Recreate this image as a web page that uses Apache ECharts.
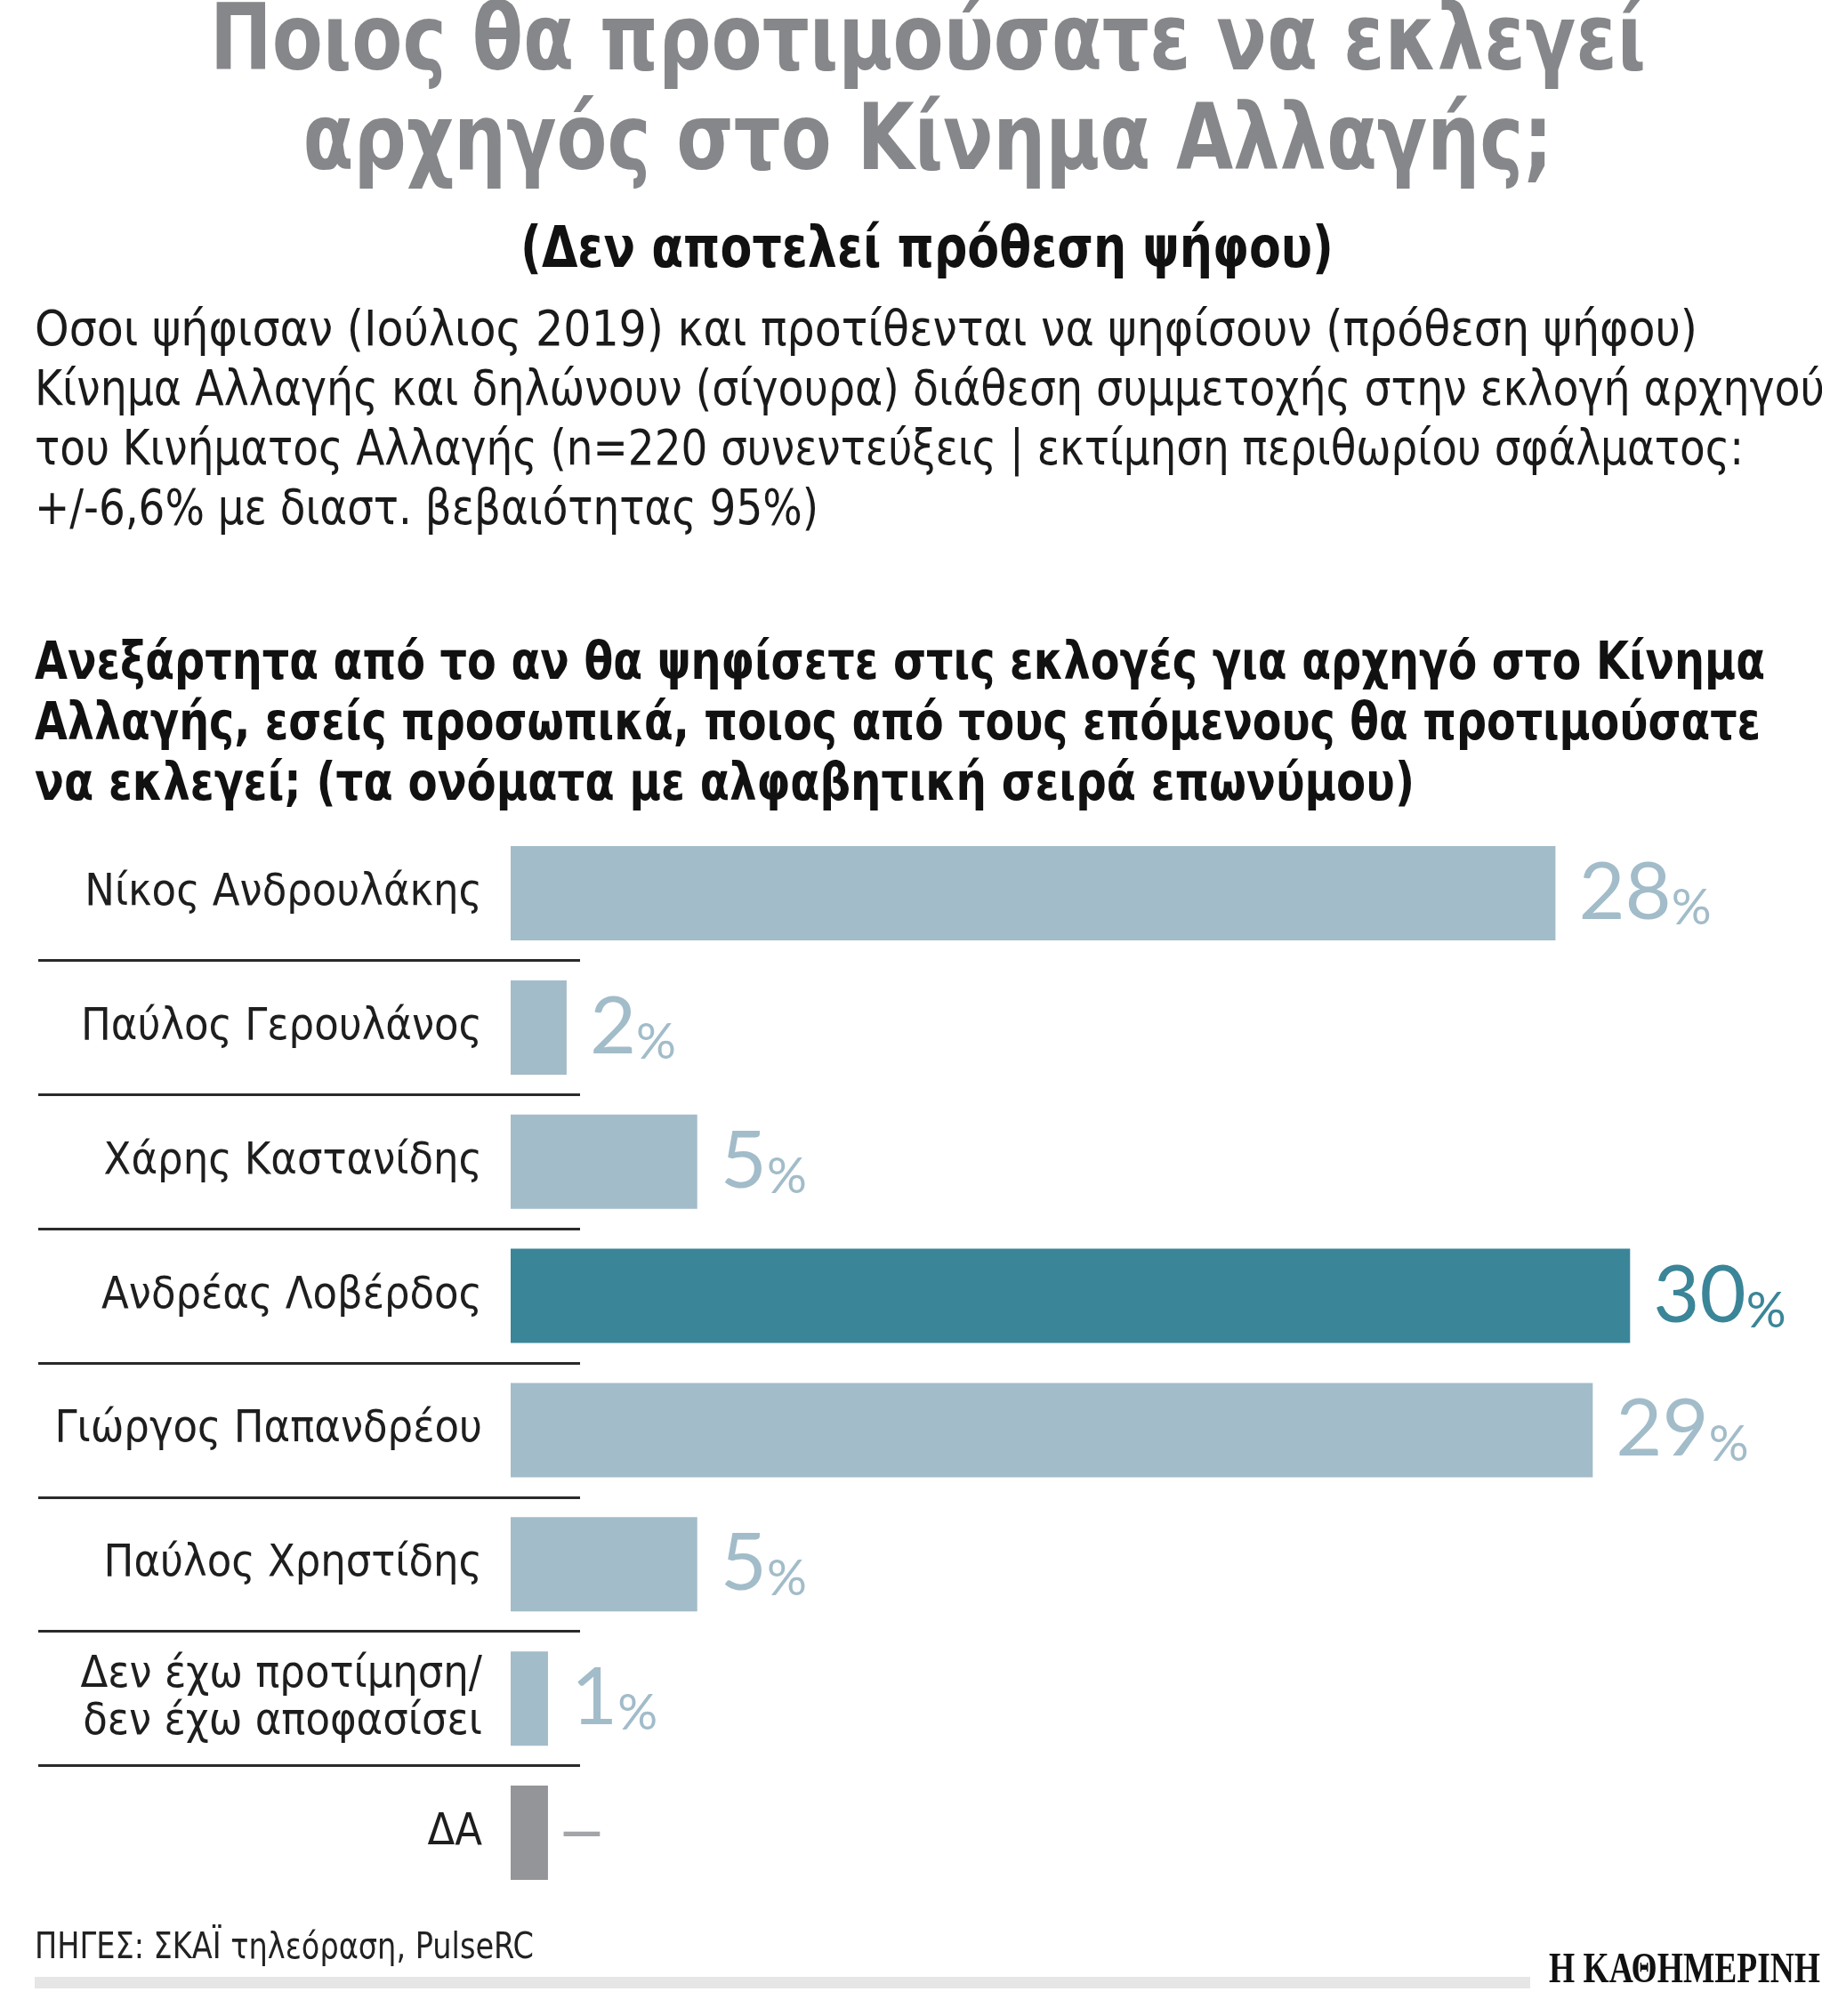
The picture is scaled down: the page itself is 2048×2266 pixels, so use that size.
<!DOCTYPE html>
<html>
<head>
<meta charset="utf-8">
<script src="https://cdn.jsdelivr.net/npm/echarts@6/dist/echarts.min.js"></script>
<style>
  html, body { margin: 0; padding: 0; background: #ffffff; }
  #chart { width: 2048px; height: 2266px; }
</style>
</head>
<body>
<div id="chart"></div>
<script>
// ---- data ----
const categories = [
  'Νίκος Ανδρουλάκης',
  'Παύλος Γερουλάνος',
  'Χάρης Καστανίδης',
  'Ανδρέας Λοβέρδος',
  'Γιώργος Παπανδρέου',
  'Παύλος Χρηστίδης',
  'Δεν έχω προτίμηση/\nδεν έχω αποφασίσει',
  'ΔΑ'
];
// bar lengths as drawn in the picture (percent)
const values = [28, 1.5, 5, 30, 29, 5, 1, 1];
// printed value labels
const valueLabels = ['28', '2', '5', '30', '29', '5', '1', '—'];
const highlightCategory = 'Ανδρέας Λοβέρδος';
const noAnswerCategory = 'ΔΑ';

const titleLines = ['Ποιος θα προτιμούσατε να εκλεγεί', 'αρχηγός στο Κίνημα Αλλαγής;'];
const subtitle = '(Δεν αποτελεί πρόθεση ψήφου)';
const descLines = [
  'Οσοι ψήφισαν (Ιούλιος 2019) και προτίθενται να ψηφίσουν (πρόθεση ψήφου)',
  'Κίνημα Αλλαγής και δηλώνουν (σίγουρα) διάθεση συμμετοχής στην εκλογή αρχηγού',
  'του Κινήματος Αλλαγής (n=220 συνεντεύξεις | εκτίμηση περιθωρίου σφάλματος:',
  '+/-6,6% με διαστ. βεβαιότητας 95%)'
];
const questionLines = [
  'Ανεξάρτητα από το αν θα ψηφίσετε στις εκλογές για αρχηγό στο Κίνημα',
  'Αλλαγής, εσείς προσωπικά, ποιος από τους επόμενους θα προτιμούσατε',
  'να εκλεγεί; (τα ονόματα με αλφαβητική σειρά επωνύμου)'
];
const sourceText = 'ΠΗΓΕΣ: ΣΚΑΪ τηλεόραση, PulseRC';
const logoText = 'Η ΚΑΘΗΜΕΡΙΝΗ';

// ---- layout (text widths measured on the reference, px) ----
const descWidths = [1869, 2012, 1921, 881];
const questionWidths = [1945, 1940, 1551];

// ---- styles ----
const NARROW = "'Liberation Sans Narrow', 'DejaVu Sans Condensed', 'Liberation Sans', sans-serif";
const SERIF = "'Liberation Serif', 'DejaVu Serif', serif";
const NUM = "Lato, 'Open Sans', sans-serif";
const LIGHT = '#A2BCC9';
const DARK = '#3B8598';
const GRAY = '#939598';
const DASH = '#A3A5A8';

const measureCtx = document.createElement('canvas').getContext('2d');
function fitScale(text, font, targetWidth) {
  measureCtx.font = font;
  return targetWidth / measureCtx.measureText(text).width;
}

function barColor(name) {
  if (name === highlightCategory) return DARK;
  if (name === noAnswerCategory) return GRAY;
  return LIGHT;
}

const seriesData = values.map((v, i) => {
  const name = categories[i];
  const item = { value: v, name: name, itemStyle: { color: barColor(name) }, label: {} };
  if (name === noAnswerCategory) {
    item.label.formatter = '{d|' + valueLabels[i] + '}';
    item.label.distance = 14;
  } else if (name === highlightCategory) {
    item.label.formatter = '{nd|' + valueLabels[i] + '}{pd|%}';
  } else {
    item.label.formatter = '{n|' + valueLabels[i] + '}{p|%}';
  }
  return item;
});

const chart = echarts.init(document.getElementById('chart'), null, { renderer: 'canvas' });

const graphics = [];
function addText(text, font, fill, x, y, align, targetWidth) {
  const s = targetWidth ? fitScale(text, font, targetWidth) : 1;
  graphics.push({
    type: 'text', z: 10, x: x, y: y, scaleX: s,
    style: { x: 0, y: 0, text: text, fill: fill, font: font, align: align, verticalAlign: 'middle' }
  });
}

const titleFont = 'bold 104px ' + NARROW;
addText(titleLines[0], titleFont, '#86878A', 1043, 51, 'center', 1614);
addText(titleLines[1], titleFont, '#86878A', 1043, 163, 'center', 1405);
addText(subtitle, 'bold 64px ' + NARROW, '#111111', 1042, 283, 'center', 914);

const descFont = '56px ' + NARROW;
descLines.forEach((t, i) => addText(t, descFont, '#1a1a1a', 39, 373 + i * 67, 'left', descWidths[i]));

const qFont = 'bold 58px ' + NARROW;
questionLines.forEach((t, i) => addText(t, qFont, '#111111', 39, 748 + i * 68, 'left', questionWidths[i]));

addText(sourceText, '40px ' + NARROW, '#222222', 39, 2191, 'left', 561);
addText(logoText, 'bold 48px ' + SERIF, '#111111', 2046, 2216, 'right', 305);

graphics.push({
  type: 'rect', z: 5,
  shape: { x: 39, y: 2222, width: 1681, height: 13 },
  style: { fill: '#E6E6E6' }
});

const option = {
  backgroundColor: '#ffffff',
  animation: false,
  graphic: graphics,
  grid: [
    { left: 574, top: 928.6, width: 1468, height: 1206.8 },
    { left: 43, top: 928.6, width: 609, height: 1206.8 }
  ],
  xAxis: [
    { gridIndex: 0, type: 'value', min: 0, max: 35, show: false },
    { gridIndex: 1, type: 'value', min: 0, max: 1, show: false }
  ],
  yAxis: [
    {
      gridIndex: 0, type: 'category', data: categories, inverse: true,
      axisLine: { show: false }, axisTick: { show: false }, splitLine: { show: false },
      axisLabel: {
        margin: 32, color: '#1e1e1e', fontFamily: NARROW, fontSize: 50,
        lineHeight: 53, align: 'right'
      }
    },
    {
      gridIndex: 1, type: 'category', data: categories, inverse: true,
      axisLine: { show: false }, axisTick: { show: false }, axisLabel: { show: false },
      splitLine: { show: true, showMinLine: false, showMaxLine: false,
        lineStyle: { color: '#2a2a2a', width: 3 } }
    }
  ],
  series: [
    {
      type: 'bar', xAxisIndex: 0, yAxisIndex: 0,
      data: seriesData, barWidth: 106,
      label: {
        show: true, position: 'right', distance: 26,
        rich: {
          n: { fontFamily: NUM, fontSize: 90, color: LIGHT, verticalAlign: 'bottom', lineHeight: 90 },
          p: { fontFamily: NUM, fontSize: 56, color: LIGHT, verticalAlign: 'bottom', lineHeight: 76 },
          nd: { fontFamily: NUM, fontSize: 90, color: DARK, verticalAlign: 'bottom', lineHeight: 90 },
          pd: { fontFamily: NUM, fontSize: 56, color: DARK, verticalAlign: 'bottom', lineHeight: 76 },
          d: { fontFamily: NUM, fontSize: 60, color: DASH, fontWeight: 'bold' }
        }
      }
    }
  ]
};
chart.setOption(option);
</script>
</body>
</html>
